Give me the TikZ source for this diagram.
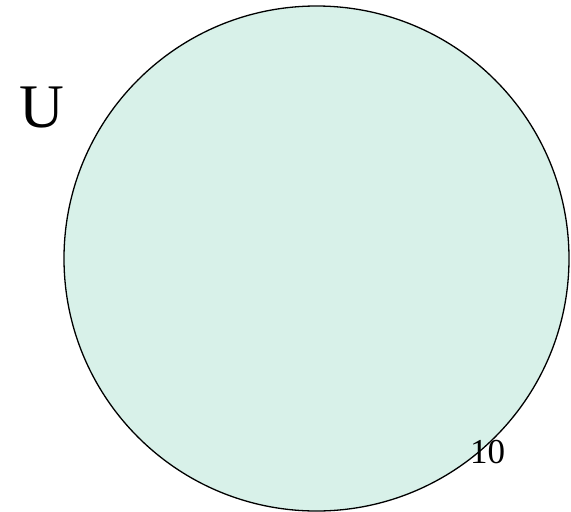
\documentclass[tikz,border=0pt]{standalone}
\usepackage{fontspec}
\setmainfont{Liberation Serif}
\usepackage{xcolor}
\usetikzlibrary{positioning}
\definecolor{setfill}{RGB}{216,241,233}

\begin{document}
\begin{tikzpicture}[x=1pt, y=-1pt]
    \useasboundingbox (0,0) rectangle (571,512);
    \draw[fill=setfill, line width=1.3pt] (316.5,258.5) ellipse (252.5 and 252.5);
    \node[anchor=base, inner sep=0pt, font=\fontsize{62}{62}\selectfont] (universe) at (41.5,127) {U};
    \node[anchor=base, inner sep=0pt, font=\fontsize{35}{35}\selectfont] (pagenum) at (487.5,463) {10};
\end{tikzpicture}
\end{document}
